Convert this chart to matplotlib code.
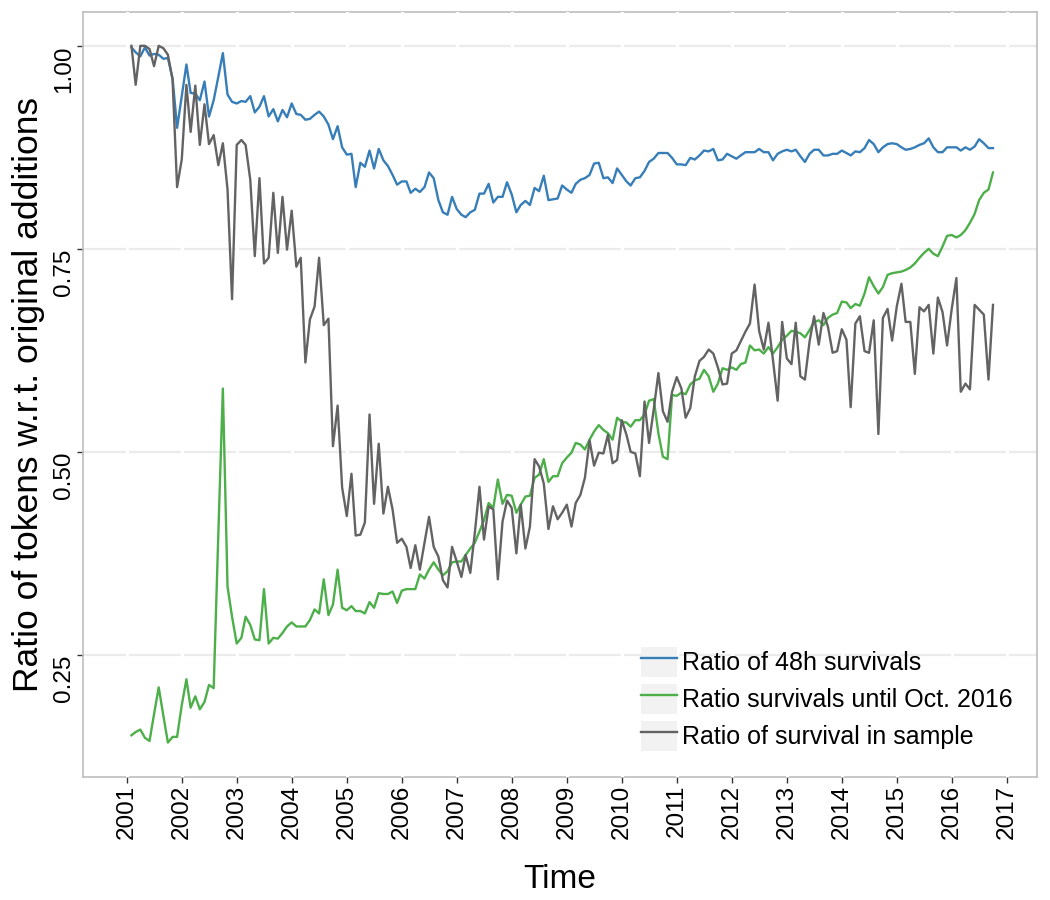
import matplotlib
matplotlib.use('Agg')
import matplotlib.pyplot as plt
from matplotlib.patches import Patch
from matplotlib.lines import Line2D
from matplotlib.legend_handler import HandlerTuple
from matplotlib.transforms import ScaledTranslation
import pandas as pd

plt.rcParams['font.family'] = ['Liberation Sans', 'DejaVu Sans']

# monthly points, Feb 2001 .. Oct 2016
months = pd.date_range('2001-02-01', periods=189, freq='MS')

ratio_48h = [
    0.998, 0.992, 0.987, 0.998, 0.988, 0.990, 0.989, 0.984, 0.985, 0.960,
    0.899, 0.938, 0.977, 0.942, 0.941, 0.933, 0.956, 0.913, 0.933, 0.962,
    0.991, 0.940, 0.931, 0.929, 0.932, 0.931, 0.938, 0.918, 0.925, 0.938,
    0.913, 0.922, 0.907, 0.921, 0.912, 0.929, 0.916, 0.915, 0.909, 0.910,
    0.915, 0.919, 0.913, 0.903, 0.885, 0.901, 0.875, 0.866, 0.867, 0.826,
    0.856, 0.851, 0.871, 0.849, 0.873, 0.859, 0.852, 0.841, 0.829, 0.833,
    0.833, 0.819, 0.824, 0.820, 0.826, 0.844, 0.837, 0.810, 0.795, 0.792,
    0.814, 0.799, 0.792, 0.789, 0.795, 0.798, 0.818, 0.818, 0.830, 0.807,
    0.814, 0.814, 0.832, 0.817, 0.795, 0.804, 0.809, 0.804, 0.825, 0.821,
    0.840, 0.810, 0.811, 0.812, 0.828, 0.823, 0.819, 0.830, 0.835, 0.837,
    0.841, 0.855, 0.856, 0.837, 0.838, 0.831, 0.849, 0.841, 0.833, 0.828,
    0.837, 0.838, 0.846, 0.857, 0.861, 0.868, 0.868, 0.868, 0.862, 0.854,
    0.854, 0.853, 0.862, 0.860, 0.865, 0.871, 0.870, 0.873, 0.859, 0.860,
    0.867, 0.864, 0.861, 0.865, 0.869, 0.869, 0.869, 0.873, 0.869, 0.869,
    0.859, 0.867, 0.870, 0.872, 0.870, 0.872, 0.864, 0.857, 0.867, 0.872,
    0.872, 0.865, 0.865, 0.867, 0.867, 0.871, 0.868, 0.865, 0.870, 0.869,
    0.874, 0.884, 0.879, 0.869, 0.875, 0.879, 0.880, 0.879, 0.875, 0.872,
    0.873, 0.875, 0.878, 0.880, 0.886, 0.875, 0.869, 0.869, 0.875, 0.875,
    0.875, 0.871, 0.875, 0.872, 0.876, 0.885, 0.880, 0.874, 0.874,
]

ratio_oct2016 = [
    0.151, 0.155, 0.158, 0.148, 0.144, 0.177, 0.210, 0.175, 0.142, 0.149,
    0.149, 0.188, 0.220, 0.185, 0.199, 0.183, 0.192, 0.213, 0.209, 0.400,
    0.578, 0.334, 0.297, 0.264, 0.271, 0.297, 0.287, 0.269, 0.268, 0.331,
    0.264, 0.271, 0.270, 0.277, 0.285, 0.290, 0.285, 0.285, 0.285, 0.293,
    0.306, 0.301, 0.343, 0.299, 0.312, 0.355, 0.308, 0.305, 0.310, 0.304,
    0.304, 0.301, 0.315, 0.308, 0.326, 0.325, 0.325, 0.328, 0.314, 0.329,
    0.331, 0.331, 0.331, 0.349, 0.344, 0.355, 0.364, 0.355, 0.348, 0.353,
    0.364, 0.365, 0.365, 0.373, 0.381, 0.388, 0.402, 0.416, 0.437, 0.431,
    0.466, 0.436, 0.447, 0.446, 0.425, 0.435, 0.445, 0.446, 0.468, 0.472,
    0.491, 0.463, 0.470, 0.470, 0.486, 0.493, 0.499, 0.511, 0.509, 0.503,
    0.515, 0.525, 0.533, 0.527, 0.523, 0.515, 0.542, 0.537, 0.536, 0.531,
    0.539, 0.539, 0.546, 0.563, 0.565, 0.523, 0.494, 0.491, 0.570, 0.569,
    0.573, 0.571, 0.583, 0.588, 0.590, 0.601, 0.593, 0.574, 0.584, 0.603,
    0.601, 0.604, 0.601, 0.608, 0.610, 0.631, 0.625, 0.626, 0.621, 0.629,
    0.621, 0.629, 0.638, 0.643, 0.649, 0.648, 0.646, 0.641, 0.650, 0.660,
    0.662, 0.656, 0.665, 0.669, 0.671, 0.685, 0.684, 0.677, 0.682, 0.680,
    0.695, 0.715, 0.704, 0.695, 0.703, 0.718, 0.720, 0.721, 0.722, 0.724,
    0.727, 0.732, 0.739, 0.745, 0.750, 0.744, 0.741, 0.753, 0.766, 0.767,
    0.764, 0.767, 0.773, 0.782, 0.793, 0.810, 0.819, 0.823, 0.844,
]

ratio_sample = [
    1.000, 0.952, 1.000, 1.000, 0.996, 0.975, 1.000, 0.997, 0.989, 0.958,
    0.826, 0.860, 0.952, 0.894, 0.951, 0.878, 0.928, 0.879, 0.890, 0.853,
    0.880, 0.823, 0.688, 0.878, 0.884, 0.878, 0.835, 0.741, 0.837, 0.732,
    0.739, 0.819, 0.745, 0.814, 0.749, 0.797, 0.728, 0.739, 0.610, 0.663,
    0.679, 0.739, 0.656, 0.664, 0.507, 0.557, 0.456, 0.421, 0.473, 0.397,
    0.398, 0.413, 0.546, 0.436, 0.510, 0.424, 0.457, 0.429, 0.388, 0.393,
    0.383, 0.357, 0.385, 0.355, 0.388, 0.420, 0.383, 0.371, 0.342, 0.333,
    0.383, 0.365, 0.346, 0.373, 0.351, 0.400, 0.457, 0.392, 0.433, 0.429,
    0.343, 0.414, 0.440, 0.431, 0.375, 0.435, 0.381, 0.408, 0.491, 0.482,
    0.461, 0.405, 0.433, 0.417, 0.425, 0.435, 0.408, 0.437, 0.447, 0.468,
    0.514, 0.483, 0.499, 0.498, 0.521, 0.486, 0.490, 0.539, 0.521, 0.500,
    0.498, 0.470, 0.562, 0.511, 0.552, 0.597, 0.550, 0.537, 0.574, 0.592,
    0.578, 0.542, 0.554, 0.593, 0.612, 0.617, 0.626, 0.621, 0.604, 0.583,
    0.584, 0.621, 0.625, 0.636, 0.648, 0.658, 0.706, 0.649, 0.626, 0.659,
    0.613, 0.563, 0.660, 0.615, 0.608, 0.659, 0.593, 0.589, 0.636, 0.667,
    0.632, 0.671, 0.654, 0.622, 0.624, 0.651, 0.638, 0.555, 0.658, 0.667,
    0.624, 0.622, 0.662, 0.522, 0.665, 0.676, 0.637, 0.679, 0.707, 0.660,
    0.660, 0.596, 0.678, 0.673, 0.681, 0.621, 0.690, 0.672, 0.631, 0.676,
    0.714, 0.574, 0.584, 0.577, 0.681, 0.675, 0.669, 0.589, 0.681,
]

labels = ['Ratio of 48h survivals', 'Ratio survivals until Oct. 2016',
          'Ratio of survival in sample']
colors = ['#377EB8', '#4DAF4A', '#636363']
years = list(range(2001, 2018))
yticks = [0.25, 0.50, 0.75, 1.00]

fig = plt.figure(figsize=(10.5, 9), dpi=100)
ax = fig.add_axes([0.0793, 0.137, 0.908, 0.850])

# grid: light grey horizontal, white vertical at each year
for y in yticks:
    ax.axhline(y, color='#EBEBEB', lw=1.6, zorder=1)
for yr in years:
    ax.axvline(pd.Timestamp(f'{yr}-01-01'), color='white', lw=2.2, zorder=2.6)

series = [ratio_48h, ratio_oct2016, ratio_sample]
for vals, c in zip(series, colors):
    ax.plot(months, vals, color=c, lw=1.7, zorder=3)

ax.set_xlim(pd.Timestamp('2000-03-18'), pd.Timestamp('2017-07-18'))
ax.set_ylim(0.100, 1.042)

ax.set_xticks([pd.Timestamp(f'{yr}-01-01') for yr in years])
ax.set_xticklabels([str(yr) for yr in years], rotation=90, fontsize=17.5)
ax.set_yticks(yticks)
# labels hang below their tick (ggplot hjust = 1 with angle = 90)
ax.set_yticklabels(['%.2f' % v for v in yticks], rotation=90, fontsize=17.5,
                   va='top')
shift = ScaledTranslation(0, -6 / 72, fig.dpi_scale_trans)
for lab in ax.get_yticklabels():
    lab.set_transform(lab.get_transform() + shift)
ax.tick_params(length=4, width=1, color='#333333', labelcolor='black', pad=2)

for s in ax.spines.values():
    s.set_color('#BDBDBD')
    s.set_linewidth(1.2)

ax.set_xlabel('Time', fontsize=24, labelpad=18)
ax.set_ylabel('Ratio of tokens w.r.t. original additions', fontsize=25.5,
              labelpad=6)

handles = [(Patch(facecolor='#F2F2F2', edgecolor='none'),
            Line2D([], [], color=c, lw=1.7)) for c in colors]
ax.legend(handles, labels, handler_map={tuple: HandlerTuple(ndivide=1, pad=0)},
          loc='upper left', bbox_to_anchor=(0.585, 0.17), frameon=False,
          fontsize=18, handlelength=1.45, handleheight=1.5,
          handletextpad=0.2, labelspacing=0.26, borderpad=0, borderaxespad=0)

fig.savefig('out.png', dpi=100)
